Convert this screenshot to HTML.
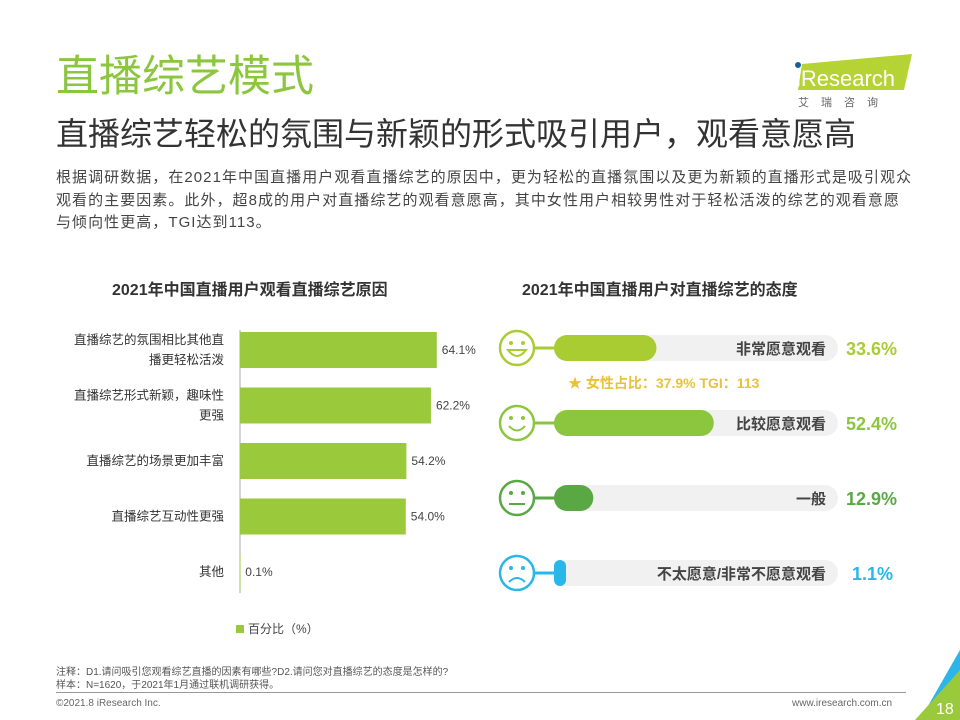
<!DOCTYPE html>
<html><head><meta charset="utf-8">
<style>
body{margin:0;width:960px;height:720px;background:#fff;font-family:"Liberation Sans","Noto Sans CJK SC",sans-serif;position:relative;overflow:hidden}
.abs{position:absolute;white-space:nowrap}
</style></head><body>
<div class="abs" style="left:56px;top:51px;font-size:43px;color:#8cc63f;line-height:52px">直播综艺模式</div>
<div class="abs" style="left:56px;top:113px;font-size:32px;color:#333;line-height:42px">直播综艺轻松的氛围与新颖的形式吸引用户，观看意愿高</div>
<div class="abs" style="left:56px;top:167px;font-size:15px;letter-spacing:1.05px;color:#444;line-height:22.5px">根据调研数据，在2021年中国直播用户观看直播综艺的原因中，更为轻松的直播氛围以及更为新颖的直播形式是吸引观众<br>观看的主要因素。此外，超8成的用户对直播综艺的观看意愿高，其中女性用户相较男性对于轻松活泼的综艺的观看意愿<br>与倾向性更高，TGI达到113。</div>
<div>
<svg class="abs" style="left:790px;top:50px" width="125" height="60">
<polygon points="12,14 122,4 114,40 8,40" fill="#b5d334"/>
<circle cx="8" cy="15" r="3" fill="#1b5e9e"/>
<text x="6" y="36" font-size="22" fill="#fff" font-family="Liberation Sans">iResearch</text>
<text x="8" y="56" font-size="11" fill="#666" letter-spacing="12" font-family="Noto Sans CJK SC">艾瑞咨询</text>
</svg></div>
<div class="abs" style="left:112px;top:276px;font-size:16px;font-weight:bold;color:#333">2021年中国直播用户观看直播综艺原因</div>
<div class="abs" style="left:522px;top:276px;font-size:16px;font-weight:bold;color:#333">2021年中国直播用户对直播综艺的态度</div>
<svg id="left" class="abs" style="left:0;top:0" width="480" height="650"></svg>
<svg id="right" class="abs" style="left:480px;top:0" width="480" height="650"></svg>
<div class="abs" style="left:236px;top:620px;font-size:12px;color:#444"><span style="display:inline-block;width:8px;height:8px;background:#9bc93c;margin-right:4px"></span>百分比（%）</div>
<div class="abs" style="left:56px;top:666px;font-size:10px;color:#555;line-height:13px">注释：D1.请问吸引您观看综艺直播的因素有哪些?D2.请问您对直播综艺的态度是怎样的?<br>样本：N=1620，于2021年1月通过联机调研获得。</div>
<div class="abs" style="left:56px;top:692px;width:850px;height:1px;background:#999"></div>
<div class="abs" style="left:56px;top:698px;font-size:10px;color:#666">©2021.8 iResearch Inc.</div>
<div class="abs" style="left:792px;top:698px;font-size:10px;color:#666">www.iresearch.com.cn</div>
<svg class="abs" style="left:900px;top:640px" width="60" height="80">
<polygon points="60,10 60,60 30,80 20,80" fill="#2bb5e8"/><polygon points="60,30 60,80 15,80" fill="#9bc93c"/>
<text x="36" y="74" font-size="16" fill="#fff" font-family="Liberation Sans">18</text></svg>
<script>
const reasonLabels=[["直播综艺的氛围相比其他直","播更轻松活泼"],["直播综艺形式新颖，趣味性","更强"],["直播综艺的场景更加丰富"],["直播综艺互动性更强"],["其他"]];
const reasonValues=[64.1,62.2,54.2,54.0,0.1];
const attLabels=["非常愿意观看","比较愿意观看","一般","不太愿意/非常不愿意观看"];
const attValues=[33.6,52.4,12.9,1.1];
const attColors=["#a9cc33","#8cc63f","#5aa844","#29b6e8"];
const NS="http://www.w3.org/2000/svg";
function mk(p,t,a){const e=document.createElementNS(NS,t);for(const k in a)e.setAttribute(k,a[k]);p.appendChild(e);return e;}
const L=document.getElementById('left');
const x0=240,sx=3.07,y0=350,dy=55.5,bh=36;
const xs=v=>v*sx;
mk(L,'line',{x1:x0,y1:330,x2:x0,y2:593,stroke:'#aaa','stroke-width':1});
reasonValues.forEach((v,i)=>{
 const cy=y0+i*dy;
 const r=mk(L,'rect',{x:x0,y:cy-bh/2,width:Math.max(xs(v),0.5),height:bh,fill:'#9bc93c'});
 
 
 const t=mk(L,'text',{x:x0+xs(v)+5,y:cy+4,'font-size':12,fill:'#444'});t.textContent=v.toFixed(1)+'%';
 
 
 const ls=reasonLabels[i];
 ls.forEach((s,j)=>{const lt=mk(L,'text',{x:224,y:cy+4+(j-(ls.length-1)/2)*20,'font-size':12.5,fill:'#333','text-anchor':'end'});lt.textContent=s;
 
 });
});
const R=document.getElementById('right');
const bx=74,tw=284,sr=3.05,ry=[348,423,498,573];
attValues.forEach((v,i)=>{
 const cy=ry[i],c=attColors[i];
 const g=mk(R,'g',{});
 
 
 mk(g,'rect',{x:bx,y:cy-13,width:tw,height:26,rx:13,fill:'#f1f1f1'});
 mk(g,'line',{x1:54,y1:cy,x2:bx+4,y2:cy,stroke:c,'stroke-width':3});
 mk(g,'circle',{cx:37,cy:cy,r:17,fill:'#fff',stroke:c,'stroke-width':2.5});
 mk(g,'circle',{cx:31,cy:cy-5,r:2,fill:c});mk(g,'circle',{cx:43,cy:cy-5,r:2,fill:c});
 if(i==0)mk(g,'path',{d:`M28 ${cy+2} Q37 ${cy+14} 46 ${cy+2} Z`,fill:'none',stroke:c,'stroke-width':2});
 if(i==1)mk(g,'path',{d:`M29 ${cy+3} Q37 ${cy+12} 45 ${cy+3}`,fill:'none',stroke:c,'stroke-width':2});
 if(i==2){mk(g,'line',{x1:29,y1:cy+6,x2:45,y2:cy+6,stroke:c,'stroke-width':2});}
 if(i==3)mk(g,'path',{d:`M29 ${cy+9} Q37 ${cy+1} 45 ${cy+9}`,fill:'none',stroke:c,'stroke-width':2});
 const b=mk(g,'rect',{x:bx,y:cy-13,width:Math.max(v*sr,12),height:26,rx:Math.min(13,Math.max(v*sr,12)/2),fill:c});
 
 
 const t=mk(g,'text',{x:bx+tw-12,y:cy+6,'font-size':15,'font-weight':'bold',fill:'#444','text-anchor':'end'});t.textContent=attLabels[i];
 const p=mk(g,'text',{x:i==3?372:366,y:cy+7,'font-size':18,'font-weight':'bold',fill:c});p.textContent=v.toFixed(1)+'%';
});
const n=mk(R,'text',{x:88,y:388,'font-size':14,'font-weight':'bold',fill:'#e8c23a'});n.textContent='★  女性占比：37.9% TGI：113';


</script>
</body></html>
